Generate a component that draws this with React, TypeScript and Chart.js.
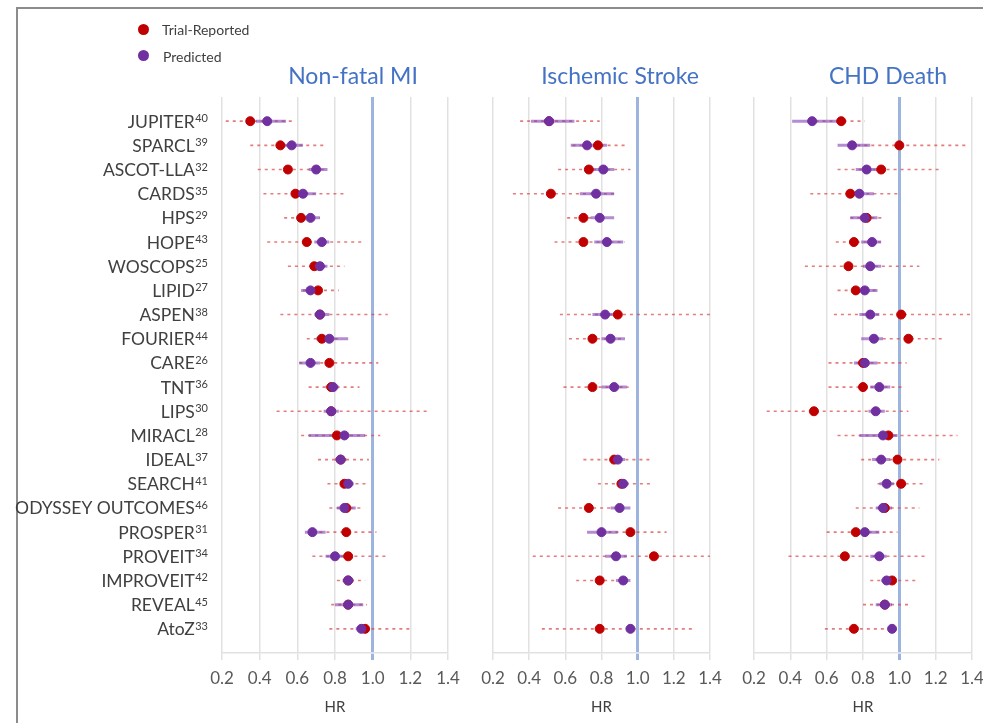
import React, { useEffect, useRef } from 'react';
import { Chart, registerables } from 'chart.js';
Chart.register(...registerables);

const FONT = 'Lato, "Open Sans", sans-serif';

const trials = ['JUPITER', 'SPARCL', 'ASCOT-LLA', 'CARDS', 'HPS', 'HOPE', 'WOSCOPS', 'LIPID', 'ASPEN', 'FOURIER', 'CARE', 'TNT', 'LIPS', 'MIRACL', 'IDEAL', 'SEARCH', 'ODYSSEY OUTCOMES', 'PROSPER', 'PROVEIT', 'IMPROVEIT', 'REVEAL', 'AtoZ'];
const refs = ['40', '39', '32', '35', '29', '43', '25', '27', '38', '44', '26', '36', '30', '28', '37', '41', '46', '31', '34', '42', '45', '33'];
const xTicks = [0.2, 0.4, 0.6, 0.8, 1.0, 1.2, 1.4];
const panelTitles = ['Non-fatal MI', 'Ischemic Stroke', 'CHD Death'];

// Non-fatal MI
const miRep = [0.35, 0.51, 0.55, 0.59, 0.62, 0.65, 0.69, 0.71, 0.72, 0.73, 0.77, 0.78, 0.78, 0.81, 0.83, 0.85, 0.86, 0.86, 0.87, 0.87, 0.87, 0.96];
const miRepLo = [0.22, 0.35, 0.39, 0.42, 0.53, 0.44, 0.55, 0.63, 0.51, 0.65, 0.61, 0.66, 0.49, 0.62, 0.71, 0.76, 0.77, 0.68, 0.68, 0.81, 0.78, 0.77];
const miRepHi = [0.58, 0.74, 0.76, 0.86, 0.72, 0.94, 0.85, 0.82, 1.08, 0.82, 1.03, 0.93, 1.29, 1.04, 0.98, 0.97, 0.95, 1.02, 1.08, 0.96, 0.97, 1.21];
const miPred = [0.44, 0.57, 0.70, 0.63, 0.67, 0.73, 0.72, 0.67, 0.72, 0.77, 0.67, 0.79, 0.78, 0.85, 0.83, 0.87, 0.85, 0.68, 0.80, 0.87, 0.87, 0.94];
const miPredLo = [0.38, 0.53, 0.66, 0.58, 0.63, 0.69, 0.69, 0.62, 0.69, 0.70, 0.61, 0.75, 0.74, 0.66, 0.80, 0.83, 0.81, 0.64, 0.75, 0.84, 0.80, 0.91];
const miPredHi = [0.54, 0.63, 0.76, 0.70, 0.72, 0.77, 0.76, 0.72, 0.77, 0.87, 0.72, 0.82, 0.82, 0.96, 0.86, 0.90, 0.91, 0.75, 0.87, 0.90, 0.95, 0.96];

// Ischemic Stroke
const isRep = [0.51, 0.78, 0.73, 0.52, 0.70, 0.70, null, null, 0.89, 0.75, null, 0.75, null, null, 0.87, 0.91, 0.73, 0.96, 1.09, 0.79, null, 0.79];
const isRepLo = [0.35, 0.64, 0.56, 0.31, 0.61, 0.54, null, null, 0.57, 0.62, null, 0.59, null, null, 0.70, 0.78, 0.56, 0.80, 0.42, 0.66, null, 0.47];
const isRepHi = [0.79, 0.94, 0.96, 0.89, 0.81, 0.93, null, null, 1.40, 0.92, null, 0.95, null, null, 1.08, 1.08, 0.92, 1.16, 1.40, 0.93, null, 1.30];
const isPred = [0.51, 0.72, 0.81, 0.77, 0.79, 0.83, null, null, 0.82, 0.85, null, 0.87, null, null, 0.89, 0.92, 0.90, 0.80, 0.88, 0.92, null, 0.96];
const isPredLo = [0.41, 0.63, 0.75, 0.68, 0.74, 0.76, null, null, 0.75, 0.80, null, 0.80, null, null, 0.85, 0.89, 0.85, 0.72, 0.82, 0.88, null, 0.94];
const isPredHi = [0.65, 0.83, 0.87, 0.87, 0.87, 0.92, null, null, 0.89, 0.93, null, 0.94, null, null, 0.93, 0.95, 0.96, 0.89, 0.94, 0.96, null, 0.98];

// CHD Death
const chdRep = [0.68, 1.00, 0.90, 0.73, 0.82, 0.75, 0.72, 0.76, 1.01, 1.05, 0.80, 0.80, 0.53, 0.94, 0.99, 1.01, 0.92, 0.76, 0.70, 0.96, 0.92, 0.75];
const chdRepLo = [0.50, 0.73, 0.66, 0.51, 0.73, 0.65, 0.48, 0.66, 0.64, 0.87, 0.61, 0.61, 0.27, 0.66, 0.79, 0.88, 0.76, 0.60, 0.39, 0.84, 0.80, 0.59];
const chdRepHi = [0.81, 1.38, 1.23, 1.00, 0.91, 0.90, 1.11, 0.87, 1.39, 1.25, 1.04, 1.03, 1.05, 1.32, 1.22, 1.15, 1.11, 0.99, 1.14, 1.09, 1.05, 0.97];
const chdPred = [0.52, 0.74, 0.82, 0.78, 0.81, 0.85, 0.84, 0.81, 0.84, 0.86, 0.81, 0.89, 0.87, 0.91, 0.90, 0.93, 0.91, 0.81, 0.89, 0.93, 0.92, 0.96];
const chdPredLo = [0.41, 0.66, 0.76, 0.73, 0.73, 0.79, 0.80, 0.77, 0.78, 0.79, 0.75, 0.84, 0.83, 0.78, 0.85, 0.89, 0.87, 0.78, 0.84, 0.90, 0.87, 0.94];
const chdPredHi = [0.68, 0.84, 0.88, 0.86, 0.88, 0.90, 0.90, 0.88, 0.89, 0.91, 0.88, 0.95, 0.92, 0.99, 0.95, 0.97, 0.96, 0.89, 0.93, 0.96, 0.96, 0.98];

type Num = number | null;

function ciLine(lo: Num[], hi: Num[]) {
  const out: any[] = [];
  lo.forEach((l, i) => {
    const h = hi[i];
    if (l == null || h == null) return;
    out.push({ x: l, y: i }, { x: h, y: i }, { x: h, y: null });
  });
  return out;
}
function points(v: Num[]) {
  const out: any[] = [];
  v.forEach((x, i) => { if (x != null) out.push({ x, y: i }); });
  return out;
}

type PanelProps = {
  left: number; width: number; padL: number; padR: number; showLabels: boolean;
  rep: Num[]; repLo: Num[]; repHi: Num[]; pred: Num[]; predLo: Num[]; predHi: Num[];
};

function Panel(p: PanelProps) {
  const ref = useRef<HTMLCanvasElement>(null);
  useEffect(() => {
    const labelPlugin = {
      id: 'trialLabels',
      afterDraw(chart: any) {
        if (!p.showLabels) return;
        const ctx = chart.ctx;
        const ys = chart.scales.y;
        const xr = chart.chartArea.left - 14;
        ctx.save();
        ctx.fillStyle = '#404040';
        ctx.textAlign = 'right';
        ctx.textBaseline = 'alphabetic';
        trials.forEach((t, i) => {
          const y = ys.getPixelForValue(i);
          ctx.font = `11px ${FONT}`;
          const sw = ctx.measureText(refs[i]).width;
          ctx.fillText(refs[i], xr, y + 1);
          ctx.font = `17.5px ${FONT}`;
          ctx.fillText(t, xr - sw - 0.5, y + 6.5);
        });
        ctx.restore();
      },
    };
    const chart = new Chart(ref.current as HTMLCanvasElement, {
      type: 'scatter',
      data: {
        datasets: [
          { label: 'Predicted', data: points(p.pred), backgroundColor: '#7030A0', borderColor: '#7030A0', pointRadius: 4.5, order: 0 } as any,
          { label: 'Trial-Reported', data: points(p.rep), backgroundColor: '#C00000', borderColor: '#C00000', pointRadius: 4.5, order: 1 } as any,
          { label: 'Predicted CI', data: ciLine(p.predLo, p.predHi), showLine: true, spanGaps: false, borderColor: 'rgba(128,64,180,0.6)', borderWidth: 3, pointRadius: 0, order: 2 } as any,
          { label: 'Reported CI', data: ciLine(p.repLo, p.repHi), showLine: true, spanGaps: false, borderColor: 'rgba(215,70,70,0.7)', borderWidth: 1.6, borderDash: [3, 4], pointRadius: 0, order: 3 } as any,
        ],
      },
      options: {
        animation: false,
        responsive: false,
        maintainAspectRatio: false,
        layout: { padding: { left: p.padL, right: p.padR, top: 97, bottom: 0 } },
        plugins: { legend: { display: false }, tooltip: { enabled: false } },
        scales: {
          x: {
            type: 'linear', min: 0.2, max: 1.4,
            afterBuildTicks: (s: any) => { s.ticks = xTicks.map((v) => ({ value: v })); },
            afterFit: (s: any) => { s.height = 70; s.paddingLeft = 0; s.paddingRight = 0; },
            ticks: { callback: (v: any) => Number(v).toFixed(1), color: '#595959', font: { family: FONT, size: 17 }, padding: 8, maxRotation: 0 },
            grid: {
              color: (c: any) => (c.tick && Math.abs(c.tick.value - 1) < 1e-6 ? '#9db4df' : '#e1e1e1'),
              lineWidth: (c: any) => (c.tick && Math.abs(c.tick.value - 1) < 1e-6 ? 3 : 1.5),
              tickLength: 7,
            },
            border: { display: true, color: '#e1e1e1', width: 1.5 },
            title: { display: true, text: 'HR', color: '#404040', font: { family: FONT, size: 15 }, padding: { top: 0, bottom: 7 } },
          } as any,
          y: { type: 'linear', min: -1, max: 22, reverse: true, display: false },
        },
      } as any,
      plugins: [labelPlugin],
    });
    return () => chart.destroy();
  }, []);
  return <canvas ref={ref} width={p.width} height={723} style={{ position: 'absolute', left: p.left, top: 0, width: p.width, height: 723 }} />;
}

const titleCenters = [353, 620, 888];

export default function App() {
  return (
    <div style={{ position: 'fixed', left: 0, top: 0, width: 983, height: 723, overflow: 'hidden', background: '#fff', fontFamily: FONT }}>
      <div style={{ position: 'absolute', left: 16, top: 7, width: 1100, height: 900, border: '2px solid #8c8c8c' }} />
      <Panel left={0} width={470} padL={222} padR={22} showLabels={true} rep={miRep} repLo={miRepLo} repHi={miRepHi} pred={miPred} predLo={miPredLo} predHi={miPredHi} />
      <Panel left={470} width={260} padL={23} padR={20} showLabels={false} rep={isRep} repLo={isRepLo} repHi={isRepHi} pred={isPred} predLo={isPredLo} predHi={isPredHi} />
      <Panel left={735} width={248} padL={19} padR={11} showLabels={false} rep={chdRep} repLo={chdRepLo} repHi={chdRepHi} pred={chdPred} predLo={chdPredLo} predHi={chdPredHi} />
      {panelTitles.map((t, i) => (
        <div key={t} style={{ position: 'absolute', left: titleCenters[i] - 150, top: 60, width: 300, lineHeight: '30px', textAlign: 'center', fontSize: 23, color: '#4472C4' }}>{t}</div>
      ))}
      <div style={{ position: 'absolute', left: 138, top: 24, width: 11, height: 11, borderRadius: '50%', background: '#C00000' }} />
      <div style={{ position: 'absolute', left: 162, top: 20, lineHeight: '20px', fontSize: 14, color: '#404040' }}>Trial-Reported</div>
      <div style={{ position: 'absolute', left: 138, top: 50, width: 11, height: 11, borderRadius: '50%', background: '#7030A0' }} />
      <div style={{ position: 'absolute', left: 163, top: 47, lineHeight: '20px', fontSize: 14, color: '#404040' }}>Predicted</div>
    </div>
  );
}
